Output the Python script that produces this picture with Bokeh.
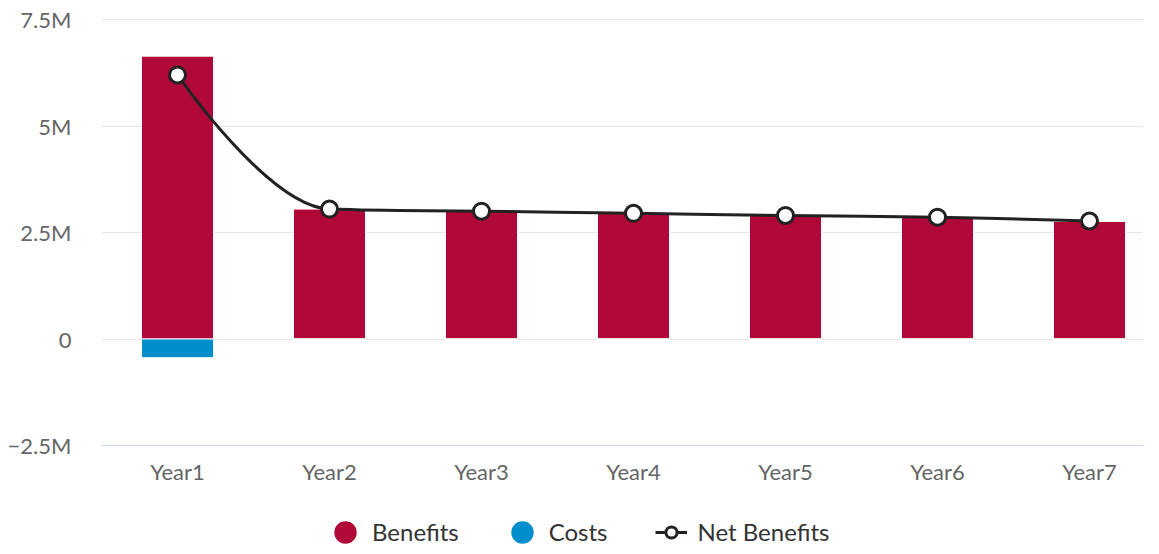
from bokeh.plotting import figure
from bokeh.models import FixedTicker, Range1d, Legend, LegendItem, ColumnDataSource
from bokeh.embed import file_html
from bokeh.resources import INLINE

# ---- data ----
categories = ["Year1", "Year2", "Year3", "Year4", "Year5", "Year6", "Year7"]
benefits = [6.64e6, 3.05e6, 3.00e6, 2.95e6, 2.90e6, 2.86e6, 2.76e6]
costs = [-0.44e6, 0, 0, 0, 0, 0, 0]
net_benefits = [6.20e6, 3.05e6, 3.00e6, 2.95e6, 2.90e6, 2.86e6, 2.77e6]
y_ticks = [-2.5e6, 0, 2.5e6, 5e6, 7.5e6]
y_tick_labels = ["\u22122.5M", "0", "2.5M", "5M", "7.5M"]

# ---- styles ----
BEN = "#b00838"
COST = "#008fcc"
LINE = "#222222"
FONT = "Lato"

idx = list(range(len(categories)))
NAN = float("nan")

W, H = 1143, 546
B_LEFT, B_TOP = 101, 18
FRAME_W, FRAME_H = W - B_LEFT, H - B_TOP
CAT_PX = 152.0
PPU = 426.0 / (y_ticks[-1] - y_ticks[0])       # pixels per unit on y
Y_END = y_ticks[-1] + 1.0 / PPU                  # one pixel of room above the top grid line
Y_START = Y_END - FRAME_H / PPU                  # frame also holds axis labels and legend

p = figure(
    width=W, height=H,
    min_border_left=B_LEFT, min_border_right=0, min_border_top=B_TOP, min_border_bottom=0,
    x_range=Range1d(-0.5, -0.5 + FRAME_W / CAT_PX),
    y_range=Range1d(Y_START, Y_END),
    output_backend="svg", toolbar_location=None,
)
p.outline_line_color = None
p.background_fill_color = "white"
p.border_fill_color = "white"

# bars
src = ColumnDataSource(dict(x=idx, benefits=benefits, costs=costs, zero=[0] * len(idx)))
p.vbar(x="x", top="benefits", bottom="zero", width=72 / CAT_PX, source=src,
       fill_color=BEN, line_color="white", line_width=1)
p.vbar(x="x", top="zero", bottom="costs", width=72 / CAT_PX, source=src,
       fill_color=COST, line_color="white", line_width=1)

# Highcharts-style spline for Net Benefits
def spline_segments(xs, ys, smoothing=1.5):
    n = len(xs)
    right = [None] * n
    segs = []
    d = smoothing + 1
    for i in range(1, n):
        px, py = xs[i], ys[i]
        lx, ly = xs[i - 1], ys[i - 1]
        if i < n - 1:
            nx, ny = xs[i + 1], ys[i + 1]
            lcx = (smoothing * px + lx) / d
            lcy = (smoothing * py + ly) / d
            rcx = (smoothing * px + nx) / d
            rcy = (smoothing * py + ny) / d
            corr = (rcy - lcy) * (rcx - px) / (rcx - lcx) + py - rcy
            lcy += corr
            rcy += corr
            if lcy > ly and lcy > py:
                lcy = max(ly, py); rcy = 2 * py - lcy
            elif lcy < ly and lcy < py:
                lcy = min(ly, py); rcy = 2 * py - lcy
            if rcy > ny and rcy > py:
                rcy = max(ny, py); lcy = 2 * py - rcy
            elif rcy < ny and rcy < py:
                rcy = min(ny, py); lcy = 2 * py - rcy
            right[i] = (rcx, rcy)
        else:
            lcx, lcy = px, py
        c0 = right[i - 1] if right[i - 1] is not None else (lx, ly)
        segs.append((lx, ly, px, py, c0[0], c0[1], lcx, lcy))
    return segs

segs = spline_segments(idx, net_benefits)
bz = ColumnDataSource(dict(
    x0=[s[0] for s in segs], y0=[s[1] for s in segs],
    x1=[s[2] for s in segs], y1=[s[3] for s in segs],
    cx0=[s[4] for s in segs], cy0=[s[5] for s in segs],
    cx1=[s[6] for s in segs], cy1=[s[7] for s in segs],
))
r_line = p.bezier(x0="x0", y0="y0", x1="x1", y1="y1", cx0="cx0", cy0="cy0", cx1="cx1", cy1="cy1",
                  source=bz, line_color=LINE, line_width=3)
r_mark = p.scatter(x=idx, y=net_benefits, marker="circle", size=16,
                   fill_color="white", line_color=LINE, line_width=3)

# legend proxies (round swatches, sized in screen units, never drawn in the frame)
r_b = p.ellipse(x=[NAN], y=[NAN], width=22, height=22, width_units="screen",
                height_units="screen", fill_color=BEN, line_color=None)
r_c = p.ellipse(x=[NAN], y=[NAN], width=22, height=22, width_units="screen",
                height_units="screen", fill_color=COST, line_color=None)

# axes
p.xaxis.fixed_location = y_ticks[0]
p.xaxis.ticker = FixedTicker(ticks=idx)
p.xaxis.major_label_overrides = {i: c for i, c in zip(idx, categories)}
p.yaxis.ticker = FixedTicker(ticks=y_ticks)
p.yaxis.major_label_overrides = {t: l for t, l in zip(y_ticks, y_tick_labels)}
for ax in (p.xaxis, p.yaxis):
    ax.major_tick_line_color = None
    ax.minor_tick_line_color = None
    ax.major_tick_out = 0
    ax.major_tick_in = 0
    ax.minor_tick_out = 0
    ax.minor_tick_in = 0
    ax.major_label_text_font = FONT
    ax.major_label_text_font_size = "22px"
    ax.major_label_text_color = "#666666"
p.yaxis.axis_line_color = None
p.yaxis.major_label_standoff = 30
p.xaxis.axis_line_color = "#ccd6eb"
p.xaxis.axis_line_width = 1
p.xaxis.major_label_standoff = 12

p.xgrid.visible = False
p.ygrid.ticker = FixedTicker(ticks=y_ticks)
p.ygrid.grid_line_color = "#e6e6e6"
p.ygrid.grid_line_width = 1

legend = Legend(
    items=[LegendItem(label="Benefits", renderers=[r_b]),
           LegendItem(label="Costs", renderers=[r_c]),
           LegendItem(label="Net Benefits", renderers=[r_line, r_mark])],
    orientation="horizontal", location=(228, 0),
    glyph_width=32, glyph_height=28, label_standoff=11, spacing=47,
    padding=0, margin=0, border_line_color=None, background_fill_alpha=0,
    label_text_font=FONT, label_text_font_size="24px", label_text_color="#333333",
)
p.add_layout(legend, "center")

open("out.html", "w").write(file_html(p, INLINE))
